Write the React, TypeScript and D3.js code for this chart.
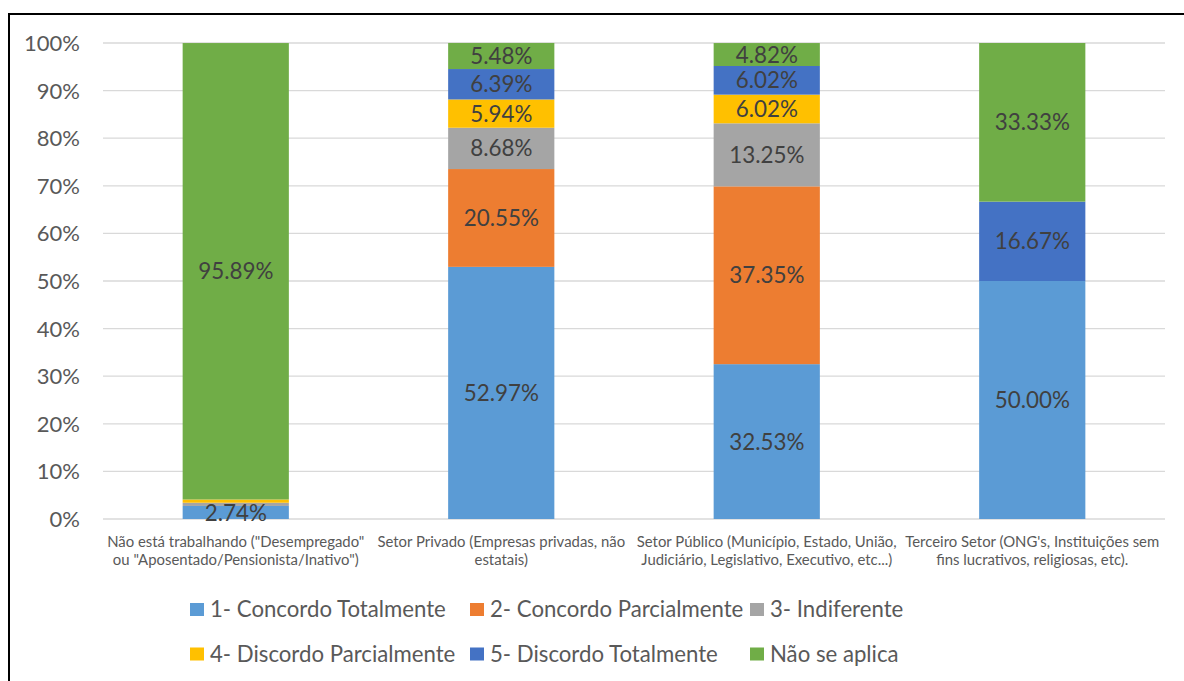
import React from "react";
import * as d3 from "d3";

const categories = [
  ["Não está trabalhando (\"Desempregado\"", "ou \"Aposentado/Pensionista/Inativo\")"],
  ["Setor Privado (Empresas privadas, não", "estatais)"],
  ["Setor Público (Município, Estado, União,", "Judiciário, Legislativo, Executivo, etc...)"],
  ["Terceiro Setor (ONG's, Instituições sem", "fins lucrativos, religiosas, etc)."],
];
const seriesNames = [
  "1- Concordo Totalmente",
  "2- Concordo Parcialmente",
  "3- Indiferente",
  "4- Discordo Parcialmente",
  "5- Discordo Totalmente",
  "Não se aplica",
];
const colors = ["#5B9BD5", "#ED7D31", "#A5A5A5", "#FFC000", "#4472C4", "#70AD47"];
const concordoTotalmente = [2.74, 52.97, 32.53, 50.0];
const concordoParcialmente = [0, 20.55, 37.35, 0];
const indiferente = [0.68, 8.68, 13.25, 0];
const discordoParcialmente = [0.68, 5.94, 6.02, 0];
const discordoTotalmente = [0, 6.39, 6.02, 16.67];
const naoSeAplica = [95.89, 5.48, 4.82, 33.33];
const showLabel = [
  [true, true, true, true],
  [false, true, true, false],
  [false, true, true, false],
  [false, true, true, false],
  [false, true, true, true],
  [true, true, true, true],
];
const yTicks = [0, 10, 20, 30, 40, 50, 60, 70, 80, 90, 100];

const FONT = "Lato, 'Open Sans', sans-serif";

export default function App() {
  const values = [concordoTotalmente, concordoParcialmente, indiferente, discordoParcialmente, discordoTotalmente, naoSeAplica];
  const left = 103, right = 1165, top = 43, bottom = 519;
  const x = d3.scaleBand<number>().domain([0, 1, 2, 3]).range([left, right]).paddingInner(0.6).paddingOuter(0.3);
  const y = d3.scaleLinear().domain([0, 100]).range([bottom, top]);
  const table = categories.map((_, i) => {
    const row: any = { idx: i };
    values.forEach((v, s) => (row["s" + s] = v[i]));
    return row;
  });
  const stack = d3.stack<any>().keys(values.map((_, s) => "s" + s))(table);

  const legendX = [190, 470, 750];
  const legendY = [609.5, 654];

  return (
    <svg width={1184} height={681} style={{ position: "absolute", left: 0, top: 0, background: "#fff" }}>
      <rect x={9} y={14} width={1300} height={800} fill="none" stroke="#000" strokeWidth={2} />
      {yTicks.map((t) => (
        <g key={t}>
          <line x1={left} x2={right} y1={y(t)} y2={y(t)} stroke="#D9D9D9" strokeWidth={1.3} />
          <text x={80} y={y(t)} dy="0.36em" textAnchor="end" fontFamily={FONT} fontSize={22} fill="#595959">
            {t}%
          </text>
        </g>
      ))}
      {stack.map((layer, s) => (
        <g key={s}>
          {layer.map((d, i) => (
            <rect
              key={i}
              x={x(i)}
              width={x.bandwidth()}
              y={y(d[1])}
              height={Math.max(0, y(d[0]) - y(d[1]))}
              fill={colors[s]}
            />
          ))}
        </g>
      ))}
      {stack.map((layer, s) => (
        <g key={"l" + s}>
          {layer.map((d, i) =>
            showLabel[s][i] ? (
              <text
                key={i}
                x={(x(i) as number) + x.bandwidth() / 2}
                y={(y(d[0]) + y(d[1])) / 2}
                dy="0.36em"
                textAnchor="middle"
                fontFamily={FONT}
                fontSize={22.4}
                fill="#404040"
              >
                {values[s][i].toFixed(2)}%
              </text>
            ) : null
          )}
        </g>
      ))}
      {categories.map((lines, i) => (
        <text key={i} x={(x(i) as number) + x.bandwidth() / 2} y={547} textAnchor="middle" fontFamily={FONT} fontSize={14.9} fill="#595959">
          {lines.map((l, k) => (
            <tspan key={k} x={(x(i) as number) + x.bandwidth() / 2} dy={k === 0 ? 0 : 18}>
              {l}
            </tspan>
          ))}
        </text>
      ))}
      {seriesNames.map((n, s) => {
        const lx = legendX[s % 3];
        const ly = legendY[Math.floor(s / 3)];
        return (
          <g key={n}>
            <rect x={lx} y={ly - 6.5} width={14} height={13} fill={colors[s]} />
            <text x={lx + 20} y={ly} dy="0.36em" fontFamily={FONT} fontSize={22.2} fill="#595959">
              {n}
            </text>
          </g>
        );
      })}
    </svg>
  );
}
